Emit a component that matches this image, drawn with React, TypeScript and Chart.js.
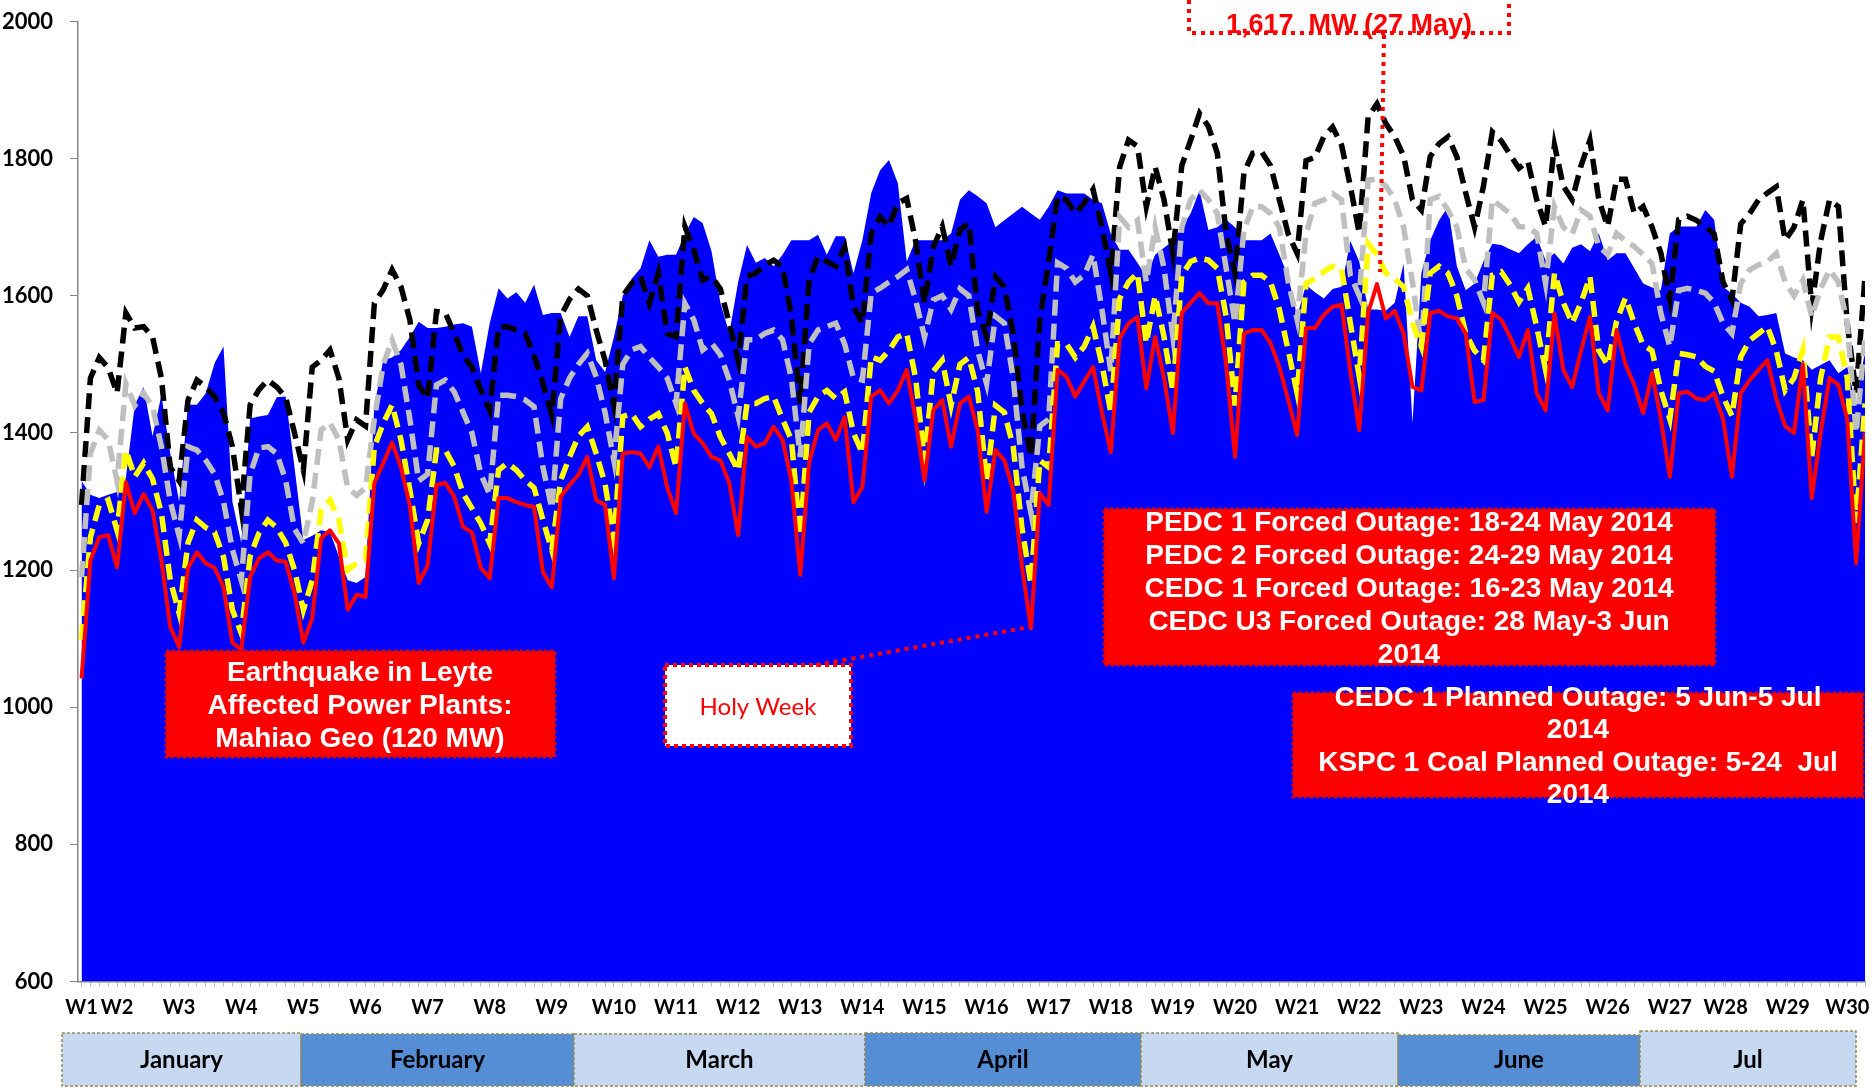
import React, { useEffect, useRef } from 'react';
import { Chart, registerables } from 'chart.js';

Chart.register(...registerables);

// ---------- DATA ----------
const weekLabels = ['W1','W2','W3','W4','W5','W6','W7','W8','W9','W10','W11','W12','W13','W14','W15','W16','W17','W18','W19','W20','W21','W22','W23','W24','W25','W26','W27','W28','W29','W30'];
// day index (0 = 1 Jan) at which each week label is shown
const weekLabelPos = [0,4,11,18,25,32,39,46,53,60,67,74,81,88,95,102,109,116,123,130,137,144,151,158,165,172,179,185.3,192.3,199];
const monthNames = ['January','February','March','April','May','June','Jul'];

// blue area (daily, 1 Jan - 21 Jul)
const blueArea = [
  1330, 1310, 1305, 1310,
  1314, 1335, 1441, 1467, 1395, 1455, 1370,
  1300, 1441, 1441, 1458, 1502, 1526, 1300,
  1240, 1421, 1424, 1426, 1452, 1453, 1350,
  1244, 1250, 1258, 1255, 1220, 1185, 1181,
  1190, 1440, 1506, 1510, 1521, 1540, 1562,
  1553, 1553, 1555, 1558, 1560, 1555, 1487,
  1560, 1611, 1596, 1605, 1590, 1616, 1572,
  1575, 1575, 1540, 1570, 1570, 1506, 1489,
  1540, 1600, 1625, 1640, 1681, 1657, 1660,
  1660, 1690, 1715, 1706, 1665, 1590, 1545,
  1620, 1674, 1648, 1655, 1643, 1660, 1681,
  1681, 1681, 1689, 1660, 1687, 1687, 1633,
  1681, 1750, 1783, 1798, 1764, 1650, 1681,
  1681, 1681, 1681, 1691, 1740, 1754, 1745,
  1735, 1700, 1710, 1720, 1730, 1720, 1711,
  1730, 1754, 1749, 1749, 1749, 1740, 1735,
  1690, 1667, 1667, 1648, 1628, 1660, 1670,
  1680, 1700, 1720, 1754, 1696, 1700, 1711,
  1700, 1681, 1681, 1681, 1691, 1660, 1628,
  1570, 1616, 1605, 1596, 1610, 1613, 1680,
  1650, 1580, 1580, 1578, 1590, 1647, 1414,
  1633, 1681, 1710, 1730, 1643, 1608, 1618,
  1650, 1676, 1674, 1668, 1662, 1675, 1686,
  1652, 1662, 1647, 1670, 1675, 1665, 1691,
  1652, 1662, 1662, 1640, 1618, 1612, 1608,
  1691, 1701, 1701, 1701, 1725, 1711, 1613,
  1603, 1590, 1584, 1570, 1572, 1575, 1516,
  1510, 1506, 1492, 1499, 1506, 1487, 1496,
  1440, 1520,
];

// black dashed
const blackSeries = [
  1295, 1480, 1510, 1495,
  1458, 1575, 1553, 1555, 1540, 1480, 1350,
  1330, 1448, 1477, 1467, 1453, 1429, 1380,
  1290, 1441, 1463, 1477, 1467, 1452, 1400,
  1346, 1496, 1506, 1521, 1480, 1390, 1419,
  1410, 1589, 1609, 1638, 1613, 1565, 1470,
  1450, 1577, 1575, 1545, 1513, 1496, 1463,
  1433, 1555, 1555, 1550, 1545, 1513, 1472,
  1426, 1570, 1595, 1610, 1600, 1550, 1506,
  1440, 1600, 1618, 1628, 1589, 1633, 1545,
  1540, 1701, 1667, 1623, 1628, 1610, 1560,
  1506, 1628, 1633, 1645, 1652, 1643, 1570,
  1443, 1623, 1657, 1650, 1643, 1671, 1584,
  1560, 1691, 1715, 1701, 1735, 1742, 1680,
  1589, 1671, 1701, 1643, 1696, 1706, 1579,
  1540, 1628, 1613, 1545, 1433, 1365, 1565,
  1650, 1745, 1740, 1720, 1735, 1755, 1700,
  1633, 1788, 1827, 1818, 1730, 1788, 1740,
  1662, 1790, 1827, 1866, 1847, 1808, 1691,
  1633, 1779, 1808, 1810, 1790, 1740, 1690,
  1662, 1797, 1802, 1832, 1846, 1820, 1760,
  1691, 1861, 1880, 1851, 1832, 1804, 1740,
  1725, 1803, 1822, 1832, 1803, 1750, 1700,
  1760, 1839, 1826, 1806, 1786, 1796, 1740,
  1701, 1820, 1760, 1740, 1790, 1827, 1740,
  1701, 1770, 1770, 1720, 1730, 1700, 1662,
  1594, 1711, 1716, 1710, 1701, 1690, 1620,
  1594, 1705, 1720, 1740, 1750, 1759, 1681,
  1700, 1740, 1584, 1680, 1740, 1730, 1560,
  1458, 1628,
];

// gray dashed
const graySeries = [
  1190, 1370, 1404, 1390,
  1330, 1472, 1440, 1458, 1438, 1380, 1300,
  1250, 1380, 1375, 1360, 1340, 1300, 1230,
  1185, 1340, 1378, 1380, 1370, 1331, 1260,
  1239, 1300, 1404, 1415, 1390, 1320, 1309,
  1320, 1420, 1500, 1535, 1500, 1420, 1330,
  1340, 1470, 1477, 1460, 1430, 1400, 1340,
  1310, 1455, 1455, 1453, 1448, 1438, 1350,
  1290, 1450, 1480, 1500, 1516, 1482, 1430,
  1360, 1500, 1521, 1526, 1510, 1496, 1480,
  1443, 1589, 1565, 1521, 1531, 1514, 1477,
  1424, 1536, 1536, 1545, 1550, 1536, 1480,
  1365, 1530, 1550, 1555, 1560, 1530, 1480,
  1477, 1604, 1611, 1620, 1628, 1638, 1594,
  1540, 1594, 1600, 1580, 1610, 1600, 1520,
  1472, 1570, 1560, 1480, 1350, 1283, 1410,
  1420, 1648, 1640, 1620, 1630, 1660, 1580,
  1490, 1715, 1700, 1710, 1620, 1700, 1640,
  1540, 1700, 1740, 1754, 1740, 1720, 1640,
  1560, 1696, 1730, 1730, 1720, 1700, 1620,
  1565, 1690, 1735, 1740, 1749, 1740, 1630,
  1600, 1769, 1770, 1760, 1740, 1700, 1620,
  1526, 1740, 1745, 1725, 1700, 1640, 1623,
  1590, 1740, 1730, 1720, 1701, 1700, 1691,
  1618, 1730, 1700, 1690, 1725, 1716, 1672,
  1660, 1691, 1680, 1672, 1660, 1647, 1574,
  1526, 1608, 1611, 1608, 1604, 1590, 1560,
  1545, 1618, 1638, 1645, 1650, 1662, 1620,
  1600, 1623, 1569, 1610, 1638, 1620, 1560,
  1400, 1540,
];

// yellow dashed
const yellowSeries = [
  1098, 1248, 1295, 1302,
  1258, 1375, 1336, 1356, 1333, 1283, 1185,
  1137, 1240, 1273, 1262, 1255, 1219, 1142,
  1108, 1220, 1254, 1273, 1262, 1240, 1200,
  1142, 1185, 1287, 1302, 1273, 1200, 1210,
  1215, 1380, 1414, 1441, 1390, 1317, 1239,
  1273, 1375, 1375, 1351, 1312, 1290, 1268,
  1239, 1346, 1356, 1346, 1331, 1320, 1273,
  1229, 1331, 1365, 1395, 1409, 1370, 1326,
  1244, 1424, 1428, 1409, 1420, 1428, 1400,
  1350, 1496, 1462, 1443, 1428, 1394, 1370,
  1345, 1443, 1443, 1450, 1453, 1420, 1390,
  1250, 1430, 1453, 1462, 1450, 1460, 1400,
  1370, 1511, 1506, 1520, 1540, 1545, 1480,
  1360, 1490, 1506, 1440, 1500, 1510, 1460,
  1330, 1440, 1430, 1380, 1260, 1180, 1360,
  1350, 1530, 1530, 1510, 1526, 1555, 1500,
  1430, 1596, 1620, 1633, 1531, 1600, 1540,
  1460, 1630, 1650, 1655, 1652, 1640, 1570,
  1440, 1620, 1630, 1630, 1620, 1580, 1520,
  1458, 1618, 1625, 1635, 1643, 1640, 1560,
  1482, 1676, 1660, 1633, 1625, 1613, 1560,
  1526, 1633, 1643, 1633, 1600, 1545, 1520,
  1506, 1630, 1635, 1616, 1591, 1611, 1555,
  1492, 1633, 1590, 1560, 1590, 1628, 1520,
  1499, 1563, 1597, 1560, 1528, 1520, 1462,
  1420, 1516, 1514, 1511, 1497, 1490, 1453,
  1425, 1511, 1535, 1545, 1555, 1520, 1462,
  1480, 1521, 1365, 1480, 1540, 1540, 1480,
  1269, 1443,
];

// red solid
const redSeries = [
  1042, 1214, 1248, 1251,
  1204, 1328, 1283, 1311, 1287, 1214, 1117,
  1088, 1203, 1226, 1210, 1203, 1175, 1094,
  1084, 1190, 1217, 1226, 1214, 1212, 1166,
  1094, 1130, 1246, 1258, 1239, 1142, 1164,
  1161, 1327, 1356, 1386, 1350, 1294, 1181,
  1207, 1324, 1327, 1307, 1263, 1255, 1203,
  1188, 1305, 1305, 1299, 1295, 1292, 1197,
  1175, 1307, 1324, 1339, 1365, 1302, 1295,
  1188, 1370, 1372, 1370, 1350, 1380, 1321,
  1283, 1443, 1399, 1385, 1365, 1360, 1327,
  1251, 1394, 1380, 1385, 1409, 1390, 1331,
  1193, 1357, 1404, 1414, 1390, 1423, 1299,
  1321, 1453, 1462, 1443, 1462, 1492, 1420,
  1331, 1433, 1448, 1380, 1443, 1453, 1404,
  1285, 1375, 1360, 1317, 1204, 1115, 1312,
  1295, 1492, 1482, 1453, 1475, 1496, 1430,
  1372, 1538, 1560, 1569, 1465, 1540, 1480,
  1400, 1575, 1590, 1604, 1589, 1589, 1500,
  1365, 1545, 1550, 1550, 1531, 1496, 1448,
  1397, 1553, 1553, 1572, 1584, 1587, 1490,
  1404, 1575, 1617, 1567, 1578, 1545, 1467,
  1462, 1575, 1578, 1570, 1567, 1545, 1445,
  1448, 1575, 1565, 1540, 1511, 1550, 1458,
  1433, 1574, 1492, 1467, 1520, 1569, 1458,
  1433, 1550, 1500, 1470, 1429, 1487, 1420,
  1336, 1458, 1460, 1450, 1448, 1458, 1420,
  1336, 1458, 1477, 1492, 1506, 1450, 1410,
  1400, 1500, 1305, 1400, 1480, 1470, 1420,
  1210, 1400,
];

const yTicks = [600, 800, 1000, 1200, 1400, 1600, 1800, 2000];

const quakeText = ['Earthquake in Leyte', 'Affected Power Plants:', 'Mahiao Geo (120 MW)'];
const holyWeekText = 'Holy Week';
const forcedText = ['PEDC 1 Forced Outage: 18-24 May 2014', 'PEDC 2 Forced Outage: 24-29 May 2014', 'CEDC 1 Forced Outage: 16-23 May 2014', 'CEDC U3 Forced Outage: 28 May-3 Jun', '2014'];
const plannedText = ['CEDC 1 Planned Outage: 5 Jun-5 Jul', '2014', 'KSPC 1 Coal Planned Outage: 5-24  Jul', '2014'];
const peakText = '1,617  MW (27 May)';

// ---------- LAYOUT / STYLE ----------
const W = 1874;
const H = 1089;
const monthEdges = [62, 301, 574, 865, 1141, 1398, 1640, 1856];
const monthTops = [1033, 1034, 1034, 1033, 1033, 1035, 1031];
const monthBottom = 1086;
const lightBox = '#C6D9F1';
const darkBox = '#558ED5';
const ANN_FONT = 'bold 28px "Liberation Sans", Arial, sans-serif';

function toPoints(arr: number[]) {
  return arr.map((v, i) => ({ x: i, y: v }));
}

function dashedRect(ctx: CanvasRenderingContext2D, x: number, y: number, w: number, h: number, color: string, lw: number, dash: number[]) {
  ctx.save();
  ctx.strokeStyle = color;
  ctx.lineWidth = lw;
  ctx.setLineDash(dash);
  ctx.strokeRect(x, y, w, h);
  ctx.restore();
}

function dashedLine(ctx: CanvasRenderingContext2D, pts: number[][], color: string, lw: number, dash: number[]) {
  ctx.save();
  ctx.strokeStyle = color;
  ctx.lineWidth = lw;
  ctx.setLineDash(dash);
  ctx.beginPath();
  ctx.moveTo(pts[0][0], pts[0][1]);
  for (let i = 1; i < pts.length; i++) ctx.lineTo(pts[i][0], pts[i][1]);
  ctx.stroke();
  ctx.restore();
}

function textLines(ctx: CanvasRenderingContext2D, lines: string[], cx: number, ys: number[], font: string, color: string) {
  ctx.save();
  ctx.font = font;
  ctx.fillStyle = color;
  ctx.textAlign = 'center';
  ctx.textBaseline = 'middle';
  lines.forEach((t, i) => ctx.fillText(t, cx, ys[i]));
  ctx.restore();
}

const annotationPlugin = {
  id: 'customAnnotations',
  afterDraw(chart: any) {
    const ctx: CanvasRenderingContext2D = chart.ctx;
    // month bands
    monthNames.forEach((m, i) => {
      const x0 = monthEdges[i];
      const x1 = monthEdges[i + 1];
      const top = monthTops[i];
      ctx.save();
      ctx.fillStyle = i % 2 === 0 ? lightBox : darkBox;
      ctx.fillRect(x0, top, x1 - x0, monthBottom - top);
      ctx.restore();
      dashedRect(ctx, x0, top, x1 - x0, monthBottom - top, '#948A54', 1.5, [3, 2]);
      textLines(ctx, [m], (x0 + x1) / 2, [1060], 'bold 24px Lato, "Open Sans", sans-serif', '#000000');
    });

    // Earthquake box
    ctx.save();
    ctx.fillStyle = '#FF0000';
    ctx.fillRect(166, 651, 389, 106);
    ctx.restore();
    dashedRect(ctx, 166, 651, 389, 106, '#E00000', 3, [3, 3]);
    textLines(ctx, quakeText, 360, [673, 706, 739], ANN_FONT, '#FFFFFF');

    // Holy Week box + connector
    ctx.save();
    ctx.fillStyle = '#FFFFFF';
    ctx.fillRect(665, 665, 186, 81);
    ctx.restore();
    dashedRect(ctx, 665, 665, 186, 81, '#FF0000', 4, [4, 4]);
    dashedLine(ctx, [[816, 665], [1030, 627]], '#FF0000', 4, [4, 5]);
    textLines(ctx, [holyWeekText], 758, [707], '24px Lato, "Open Sans", sans-serif', '#FF0000');

    // Forced outage box
    ctx.save();
    ctx.fillStyle = '#FF0000';
    ctx.fillRect(1104, 509, 611, 156);
    ctx.restore();
    dashedRect(ctx, 1104, 509, 611, 156, '#E00000', 3, [3, 3]);
    textLines(ctx, forcedText, 1409, [523, 556, 589, 622, 655], ANN_FONT, '#FFFFFF');

    // Planned outage box
    ctx.save();
    ctx.fillStyle = '#FF0000';
    ctx.fillRect(1293, 693, 570, 104);
    ctx.restore();
    dashedRect(ctx, 1293, 693, 570, 104, '#E00000', 3, [3, 3]);
    textLines(ctx, plannedText, 1578, [698, 730, 763, 795], ANN_FONT, '#FFFFFF');

    // peak annotation (top)
    dashedLine(ctx, [[1189, 0], [1189, 33], [1509, 33], [1509, 0]], '#FF0000', 4, [4, 5]);
    dashedLine(ctx, [[1384, 35], [1380, 272]], '#FF0000', 4, [4, 5]);
    ctx.save();
    ctx.font = 'bold 27px "Liberation Sans", Arial, sans-serif';
    ctx.fillStyle = '#FF0000';
    ctx.textAlign = 'center';
    ctx.textBaseline = 'alphabetic';
    ctx.fillText(peakText, 1349, 33);
    ctx.restore();
  },
};

export default function App() {
  const canvasRef = useRef<HTMLCanvasElement | null>(null);

  useEffect(() => {
    const canvas = canvasRef.current;
    if (!canvas) return;
    const n = redSeries.length;
    const tickSet = new Set<number>();
    for (let i = 0; i < n; i++) tickSet.add(i);
    weekLabelPos.forEach((p) => tickSet.add(p));
    const tickValues = Array.from(tickSet).sort((a, b) => a - b);
    const dashW = 5.5;
    const dash = [16, 8];

    const chart = new Chart(canvas, {
      type: 'line',
      data: {
        datasets: [
          {
            label: 'Blue',
            data: toPoints(blueArea),
            borderColor: '#0000FF',
            backgroundColor: '#0000FF',
            borderWidth: 0,
            pointRadius: 0,
            fill: 'start',
            order: 5,
          },
          {
            label: 'Black',
            data: toPoints(blackSeries),
            borderColor: '#000000',
            borderWidth: dashW,
            borderDash: dash,
            pointRadius: 0,
            fill: false,
            order: 4,
          },
          {
            label: 'Gray',
            data: toPoints(graySeries),
            borderColor: '#BFBFBF',
            borderWidth: dashW,
            borderDash: dash,
            pointRadius: 0,
            fill: false,
            order: 3,
          },
          {
            label: 'Yellow',
            data: toPoints(yellowSeries),
            borderColor: '#FFFF00',
            borderWidth: dashW,
            borderDash: dash,
            pointRadius: 0,
            fill: false,
            order: 2,
          },
          {
            label: 'Red',
            data: toPoints(redSeries),
            borderColor: '#FF0000',
            borderWidth: 4,
            borderJoinStyle: 'round',
            pointRadius: 0,
            fill: false,
            order: 1,
          },
        ] as any,
      },
      options: {
        animation: false,
        responsive: false,
        devicePixelRatio: 1,
        parsing: false as any,
        normalized: true,
        layout: { padding: { top: 21.5, right: 8.4, bottom: 0, left: 0 } },
        plugins: {
          legend: { display: false },
          tooltip: { enabled: false },
        },
        scales: {
          x: {
            type: 'linear',
            min: -0.4,
            max: n - 1,
            afterFit: (s: any) => { s.height = H - 981.5; },
            afterBuildTicks: (s: any) => { s.ticks = tickValues.map((v) => ({ value: v })); },
            ticks: {
              autoSkip: false,
              maxRotation: 0,
              minRotation: 0,
              padding: 9,
              color: '#000000',
              font: { family: 'Lato, "Open Sans", sans-serif', size: 20, weight: 'bold' },
              callback: (v: any) => {
                const k = weekLabelPos.indexOf(Number(v));
                return k >= 0 ? weekLabels[k] : '';
              },
            },
            grid: { display: true, drawOnChartArea: false, drawTicks: true, tickLength: 5, color: '#BFBFBF', lineWidth: 1 },
            border: { display: true, color: '#868686', width: 1.5 },
          },
          y: {
            type: 'linear',
            min: yTicks[0],
            max: yTicks[yTicks.length - 1],
            afterFit: (s: any) => { s.width = 78; s.paddingTop = 8; s.paddingBottom = 8; },
            afterBuildTicks: (s: any) => { s.ticks = yTicks.map((v) => ({ value: v })); },
            ticks: {
              padding: 17,
              color: '#000000',
              font: { family: 'Lato, "Open Sans", sans-serif', size: 22, weight: 'bold' },
              callback: (v: any) => String(v),
            },
            grid: { display: true, drawOnChartArea: false, drawTicks: true, tickLength: 8, color: '#868686', lineWidth: 1 },
            border: { display: true, color: '#868686', width: 1.5 },
          },
        },
      } as any,
      plugins: [annotationPlugin],
    });

    return () => chart.destroy();
  }, []);

  return (
    <div style={{ position: 'fixed', left: 0, top: 0, width: W, height: H, background: '#FFFFFF' }}>
      <canvas ref={canvasRef} width={W} height={H} style={{ display: 'block', width: W, height: H }} />
    </div>
  );
}
